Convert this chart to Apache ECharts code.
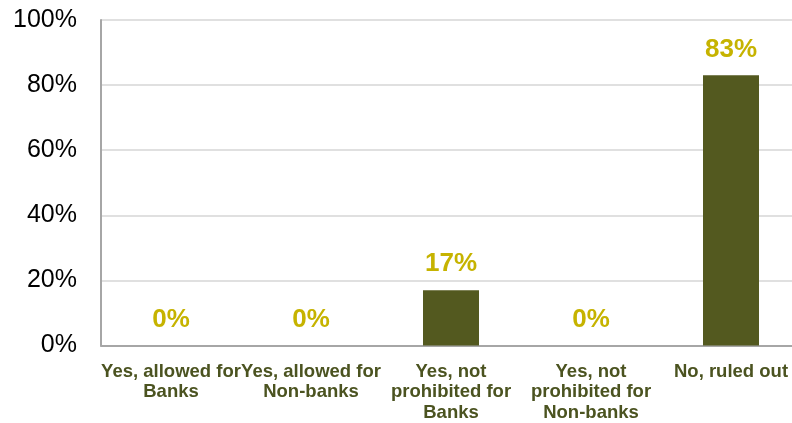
<!DOCTYPE html>
<html>
<head>
<meta charset="utf-8">
<script src="https://cdn.jsdelivr.net/npm/echarts@6/dist/echarts.min.js"></script>
<style>html,body{margin:0;padding:0;background:#fff;overflow:hidden;}#c{width:812px;height:423px;}</style>
</head>
<body>
<div id="c"></div>
<script>
const categories = [
  "Yes, allowed for\nBanks",
  "Yes, allowed for\nNon-banks",
  "Yes, not\nprohibited for\nBanks",
  "Yes, not\nprohibited for\nNon-banks",
  "No, ruled out"
];
const values = [0, 0, 17, 0, 83];
const yTicks = [0, 20, 40, 60, 80, 100];

const chart = echarts.init(document.getElementById('c'), null, {renderer: 'canvas'});
chart.setOption({
  animation: false,
  backgroundColor: '#ffffff',
  grid: {left: 101, top: 20, width: 700, height: 327, containLabel: false},
  xAxis: {
    type: 'category',
    data: categories,
    axisLine: {show: true, lineStyle: {color: '#a6a6a6', width: 2}},
    axisTick: {show: false},
    axisLabel: {
      interval: 0,
      color: '#4b5320',
      fontFamily: 'Liberation Sans, Arial, sans-serif',
      fontWeight: 'bold',
      fontSize: 18.5,
      lineHeight: 20.5,
      margin: 16
    }
  },
  yAxis: {
    type: 'value',
    min: yTicks[0],
    max: yTicks[yTicks.length - 1],
    interval: 20,
    axisLine: {show: true, lineStyle: {color: '#a6a6a6', width: 2}},
    axisTick: {show: false},
    splitLine: {show: true, lineStyle: {color: '#e0e0e0', width: 2}},
    axisLabel: {
      formatter: '{value}%',
      color: '#000000',
      fontFamily: 'Liberation Sans, Arial, sans-serif',
      fontSize: 25,
      margin: 24,
      padding: [4, 0, 0, 0]
    }
  },
  series: [{
    type: 'bar',
    data: values,
    barWidth: 56,
    itemStyle: {color: '#53591f'},
    label: {
      show: true,
      position: 'top',
      distance: 13,
      formatter: '{c}%',
      color: '#c6b300',
      fontFamily: 'Liberation Sans, Arial, sans-serif',
      fontWeight: 'bold',
      fontSize: 26
    }
  }]
});
</script>
</body>
</html>
